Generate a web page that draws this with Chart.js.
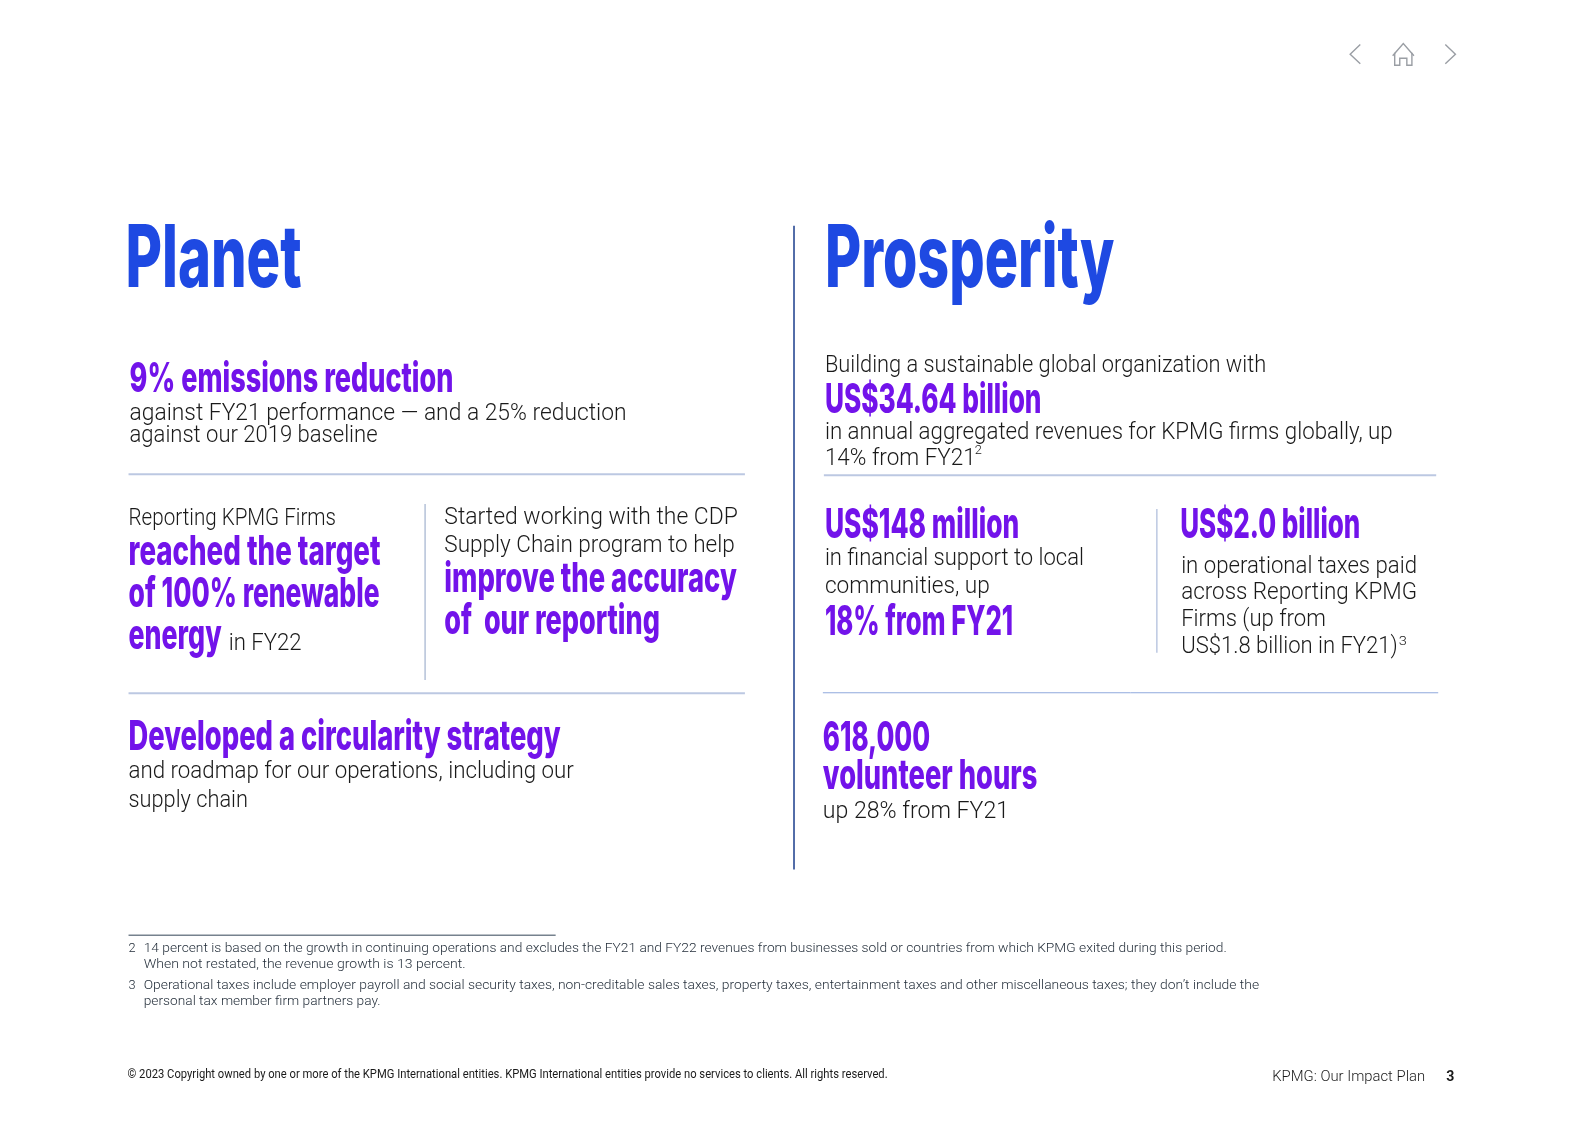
<!DOCTYPE html>
<html>
<head>
<meta charset="utf-8">
<title>Planet and Prosperity</title>
<script src="https://cdn.jsdelivr.net/npm/chart.js@4"></script>
<style>
  html, body { margin: 0; padding: 0; background: #fff; }
  canvas { display: block; }
</style>
</head>
<body>
<canvas id="page" width="1587" height="1122"></canvas>
<script>
// Page content, as printed
const headings = ["Planet", "Prosperity"];
const headlines = [
  "9% emissions reduction", "reached the target", "of 100% renewable", "energy",
  "improve the accuracy", "of  our reporting", "Developed a circularity strategy",
  "US$34.64 billion", "US$148 million", "18% from FY21", "US$2.0 billion",
  "618,000", "volunteer hours"
];
const bodyLines = [
  "against FY21 performance — and a 25% reduction", "against our 2019 baseline",
  "Reporting KPMG Firms", "in FY22",
  "Started working with the CDP", "Supply Chain program to help",
  "and roadmap for our operations, including our", "supply chain",
  "Building a sustainable global organization with",
  "in annual aggregated revenues for KPMG firms globally, up", "14% from FY21",
  "in financial support to local", "communities, up",
  "in operational taxes paid", "across Reporting KPMG", "Firms (up from", "US$1.8 billion in FY21)",
  "up 28% from FY21"
];
const superscripts = ["2", "3"];
const footnotes = [
  "2", "14 percent is based on the growth in continuing operations and excludes the FY21 and FY22 revenues from businesses sold or countries from which KPMG exited during this period.",
  "When not restated, the revenue growth is 13 percent.",
  "3", "Operational taxes include employer payroll and social security taxes, non-creditable sales taxes, property taxes, entertainment taxes and other miscellaneous taxes; they don’t include the",
  "personal tax member firm partners pay."
];
const copyright = ["© 2023 Copyright owned by one or more of the KPMG International entities. KPMG International entities provide no services to clients. All rights reserved."];
const pageFooter = ["KPMG: Our Impact Plan", "3"];

// Layout: [left, baseline, right] in axis units, same order as the lists above
const headingPos = [[124, 284, 298], [815, 284, 1101]];
const headlinePos = [
  [128, 387, 448], [127, 558, 376], [127, 600, 375], [127, 641, 219],
  [439, 585, 728], [439, 626, 652], [127, 741, 554],
  [815, 408, 1029], [815, 532, 1007], [815, 627, 1001], [1166, 532, 1344],
  [813, 742, 919], [813, 780, 1025]
];
const bodyPos = [
  [128, 415, 619], [128, 437, 373],
  [127, 519, 332], [226, 642, 298],
  [439, 518, 729], [439, 545, 726],
  [127, 769, 567], [127, 797, 245],
  [815, 368, 1251],
  [815, 434, 1376], [815, 459, 964],
  [815, 558, 1071], [815, 586, 978],
  [1167, 566, 1400], [1167, 592, 1400], [1167, 619, 1310], [1167, 645, 1381],
  [813, 808, 997]
];
const superPos = [[963, 449, 970], [1382, 637, 1390]];
const footnotePos = [
  [127, 941, 134], [142, 941, 1212], [142, 956, 460],
  [127, 977, 134], [142, 977, 1244], [142, 993, 376]
];
const copyrightPos = [[126, 1065, 877]];
const pageFooterPos = [[1257, 1068, 1408], [1429, 1068, 1437]];

// Divider rules: [x1, y1, x2, y2, colour, width]
const rules = [
  [127, 468.5, 736, 468.5, "#bcc8e2", 2],
  [127, 685, 736, 685, "#bcc8e2", 2],
  [420, 498, 420, 672, "#b4c2d8", 1.5],
  [784.5, 223, 784.5, 859, "#2a4a94", 1.6],
  [814, 469.5, 1419, 469.5, "#bcc8e2", 2],
  [1143, 503, 1143, 645, "#bcc8e2", 1.5],
  [813, 684.5, 1421, 684.5, "#8fa8dc", 1],
  [127, 924, 549, 924, "#76828e", 1.5]
];

const AXIS_W = 1568, AXIS_H = 1108.6;
const HEAD_FONT = 'Inter, "Liberation Sans Narrow", sans-serif';
const BODY_FONT = 'Roboto, "Liberation Sans", sans-serif';

const ruleSets = rules.map((r) => ({
  data: [{ x: r[0], y: r[1] }, { x: r[2], y: r[3] }],
  borderColor: r[4],
  borderWidth: r[5],
  showLine: true,
  pointRadius: 0,
  fill: false
}));

// Text drawn on the canvas, squeezed to the printed width of every line
function drawLines(chart, lines, pos, font, color) {
  const { ctx, scales } = chart;
  lines.forEach((text, i) => {
    const left = scales.x.getPixelForValue(pos[i][0]);
    const right = scales.x.getPixelForValue(pos[i][2]);
    const base = scales.y.getPixelForValue(pos[i][1]);
    ctx.save();
    ctx.font = font;
    ctx.fillStyle = color;
    ctx.textBaseline = "alphabetic";
    const w = ctx.measureText(text).width;
    ctx.translate(left, base);
    ctx.scale((right - left) / w, 1);
    ctx.fillText(text, 0, 0);
    ctx.restore();
  });
}

function drawPath(chart, points) {
  const { ctx, scales } = chart;
  ctx.save();
  ctx.strokeStyle = "#9a9ea4";
  ctx.lineWidth = 1.4;
  ctx.beginPath();
  points.forEach((p, i) => {
    const px = scales.x.getPixelForValue(p[0]);
    const py = scales.y.getPixelForValue(p[1]);
    if (i === 0) ctx.moveTo(px, py);
    else ctx.lineTo(px, py);
  });
  ctx.stroke();
  ctx.restore();
}

const pagePlugin = {
  id: "pagePlugin",
  afterDatasetsDraw(chart) {
    drawLines(chart, headings, headingPos, "800 86px " + HEAD_FONT, "#1e49e2");
    drawLines(chart, headlines, headlinePos, "800 41px " + HEAD_FONT, "#7213ea");
    drawLines(chart, bodyLines, bodyPos, "300 23.5px " + BODY_FONT, "#1a1a1a");
    drawLines(chart, superscripts, superPos, "300 13px " + BODY_FONT, "#1a1a1a");
    drawLines(chart, footnotes, footnotePos, "300 13.5px " + BODY_FONT, "#1f2a36");
    drawLines(chart, copyright, copyrightPos, "12px " + BODY_FONT, "#1a1a1a");
    drawLines(chart, [pageFooter[0]], [pageFooterPos[0]], "300 15.5px " + BODY_FONT, "#1a1a1a");
    drawLines(chart, [pageFooter[1]], [pageFooterPos[1]], "bold 15.5px " + BODY_FONT, "#1a1a1a");
    // nav icons
    drawPath(chart, [[1344, 44], [1334, 53.5], [1344, 63]]);
    drawPath(chart, [[1428, 44], [1438, 53.5], [1428, 63]]);
    drawPath(chart, [[1376, 55], [1386.5, 43], [1397, 55]]);
    drawPath(chart, [[1378, 52], [1378, 64.5], [1383, 64.5], [1383, 57.5], [1390, 57.5], [1390, 64.5], [1395, 64.5], [1395, 52]]);
  }
};

new Chart(document.getElementById("page").getContext("2d"), {
  type: "scatter",
  data: { datasets: ruleSets },
  options: {
    responsive: false,
    animation: false,
    events: [],
    layout: { padding: 0 },
    plugins: { legend: { display: false }, tooltip: { enabled: false }, title: { display: false } },
    scales: {
      x: { type: "linear", display: false, min: 0, max: AXIS_W },
      y: { type: "linear", display: false, min: 0, max: AXIS_H, reverse: true }
    }
  },
  plugins: [pagePlugin]
});
</script>
</body>
</html>
